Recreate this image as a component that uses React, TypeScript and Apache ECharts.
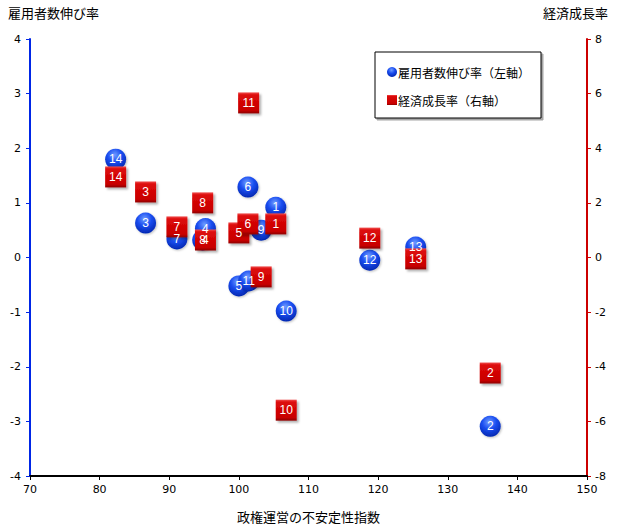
import React, { useEffect, useRef } from "react";
import * as echarts from "echarts";

const pointLabels = ["1", "2", "3", "4", "5", "6", "7", "8", "9", "10", "11", "12", "13", "14"];
const instabilityIndex = [105.3, 136.1, 86.6, 95.2, 100.0, 101.3, 91.1, 94.8, 103.2, 106.8, 101.4, 118.8, 125.4, 82.3];
const employmentGrowth = [0.92, -3.09, 0.63, 0.53, -0.52, 1.29, 0.34, 0.32, 0.5, -0.98, -0.43, -0.05, 0.19, 1.8];
const economicGrowth = [1.23, -4.23, 2.4, 0.64, 0.9, 1.23, 1.12, 2.0, -0.71, -5.59, 5.66, 0.71, -0.05, 2.95];

const seriesNames = ["雇用者数伸び率（左軸）", "経済成長率（右軸）"];
const leftAxisName = "雇用者数伸び率";
const rightAxisName = "経済成長率";
const xAxisName = "政権運営の不安定性指数";

const JP = '"Noto Sans CJK JP", sans-serif';
const NUM = '"DejaVu Sans", sans-serif';

export default function App() {
  const ref = useRef<HTMLDivElement>(null);
  useEffect(() => {
    document.body.style.margin = "0";
    const chart = echarts.init(ref.current!, null, { renderer: "svg" });
    const blueData = instabilityIndex.map((x, i) => ({ name: pointLabels[i], value: [x, employmentGrowth[i]] }));
    const redData = instabilityIndex.map((x, i) => ({ name: pointLabels[i], value: [x, economicGrowth[i]] }));
    const labelStyle = {
      show: true,
      position: "inside",
      formatter: "{b}",
      color: "#fff",
      fontSize: 12,
      fontFamily: '"Liberation Sans", sans-serif',
    };
    chart.setOption({
      animation: false,
      grid: { left: 30, right: 30, top: 39, bottom: 53, containLabel: false },
      legend: {
        orient: "vertical",
        left: 375,
        top: 52,
        padding: [14, 11, 12, 12],
        itemGap: 16,
        itemWidth: 10,
        itemHeight: 10,
        borderColor: "#000",
        borderWidth: 1,
        shadowColor: "rgba(0,0,0,0.35)",
        shadowOffsetX: 2,
        shadowOffsetY: 2,
        shadowBlur: 1,
        backgroundColor: "#fff",
        textStyle: { fontSize: 12, fontFamily: JP, color: "#000", padding: [0, 0, 0, -4] },
        data: [
          { name: seriesNames[0], icon: "circle" },
          { name: seriesNames[1], icon: "rect" },
        ],
      },
      graphic: [
        { type: "text", left: 8, top: 6, style: { text: leftAxisName, font: "13px " + JP, fill: "#000" } },
        { type: "text", right: 9, top: 6, style: { text: rightAxisName, font: "13px " + JP, fill: "#000" } },
      ],
      xAxis: {
        type: "value",
        min: 70,
        max: 150,
        interval: 10,
        name: xAxisName,
        nameLocation: "middle",
        nameGap: 34,
        nameTextStyle: { fontSize: 13, fontFamily: JP, color: "#000" },
        axisLine: { onZero: false, lineStyle: { color: "#000", width: 2 } },
        axisTick: { show: true, length: 4, lineStyle: { color: "#000" } },
        axisLabel: { margin: 8, fontSize: 11, fontFamily: NUM, color: "#000" },
        splitLine: { show: false },
      },
      yAxis: [
        {
          type: "value",
          position: "left",
          min: -4,
          max: 4,
          interval: 1,
          axisLine: { show: true, onZero: false, lineStyle: { color: "#0026e6", width: 2 } },
          axisTick: { show: true, length: 4 },
          axisLabel: { margin: 9, fontSize: 11, fontFamily: NUM, color: "#000" },
          splitLine: { show: false },
        },
        {
          type: "value",
          position: "right",
          min: -8,
          max: 8,
          interval: 2,
          axisLine: { show: true, onZero: false, lineStyle: { color: "#cc0000", width: 2 } },
          axisTick: { show: true, length: 4 },
          axisLabel: { margin: 8, fontSize: 11, fontFamily: NUM, color: "#000" },
          splitLine: { show: false },
        },
      ],
      series: [
        {
          name: seriesNames[0],
          type: "scatter",
          yAxisIndex: 0,
          symbol: "circle",
          symbolSize: 21,
          itemStyle: {
            color: {
              type: "radial",
              x: 0.45,
              y: 0.3,
              r: 0.75,
              colorStops: [
                { offset: 0, color: "#6f9cff" },
                { offset: 0.45, color: "#1a4df0" },
                { offset: 1, color: "#0022a8" },
              ],
            },
            opacity: 1,
            shadowColor: "rgba(0,0,0,0.25)",
            shadowBlur: 2,
            shadowOffsetX: 1,
            shadowOffsetY: 1,
          },
          label: labelStyle,
          data: blueData,
        },
        {
          name: seriesNames[1],
          type: "scatter",
          yAxisIndex: 1,
          symbol: "rect",
          symbolSize: 21,
          itemStyle: {
            color: {
              type: "linear",
              x: 0,
              y: 0,
              x2: 0,
              y2: 1,
              colorStops: [
                { offset: 0, color: "#f05050" },
                { offset: 0.12, color: "#dd0a0a" },
                { offset: 0.85, color: "#c80000" },
                { offset: 1, color: "#8c0000" },
              ],
            },
            opacity: 1,
            shadowColor: "rgba(0,0,0,0.3)",
            shadowBlur: 2,
            shadowOffsetX: 2,
            shadowOffsetY: 2,
          },
          label: labelStyle,
          data: redData,
        },
      ],
    });
    return () => chart.dispose();
  }, []);
  return <div ref={ref} style={{ width: 617, height: 529 }} />;
}
